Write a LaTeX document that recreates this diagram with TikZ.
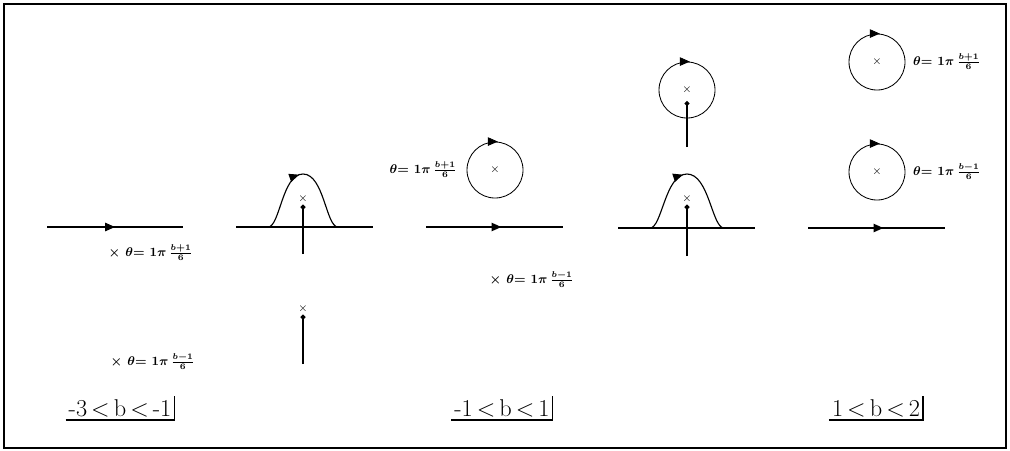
\documentclass[tikz,border=0pt]{standalone}
\usepackage{amsmath}
\usetikzlibrary{arrows.meta, decorations.markings, positioning}

\begin{document}
\begin{tikzpicture}[
  x=0.025cm, y=-0.025cm,
  contour/.style={line width=0.8pt},
  midarrow/.style={contour, postaction={decorate},
    decoration={markings, mark=at position #1 with {\arrow{Triangle[length=7pt,width=6pt]}}}},
  midarrow/.default=0.5,
  loopc/.style={circle, draw, line width=0.6pt, minimum size=1.4cm,
    inner sep=0pt, font=\footnotesize},
  loophead/.style={-{Triangle[length=7pt,width=6pt]}, line width=0.6pt},
  pole/.style={font=\footnotesize, inner sep=1pt},
  lbl/.style={font=\small\bfseries\boldmath, inner sep=1pt},
  brange/.style={font=\LARGE, inner sep=2pt},
  bracket/.style={line width=0.9pt},
  push/.style={line width=0.8pt, -{Circle[length=3.5pt]}}
]
\useasboundingbox (0,0) rectangle (1010,450);
\draw[line width=1.2pt] (4,4) rectangle (1006,448);

%% panel 1: -3 < b < -1
\coordinate (pa-l) at (47,227);
\coordinate (pa-r) at (183,227);
\draw[midarrow=0.5] (pa-l) -- (pa-r);
\node[lbl, anchor=west] (pa-up) at (107,253) {$\times\ \theta{=}\ 1\pi\,\frac{b+1}{6}$};
\node[lbl, anchor=west] (pa-dn) at (109,362) {$\times\ \theta{=}\ 1\pi\,\frac{b-1}{6}$};

%% panel 2: poles pushed up through the line
\coordinate (pb-l) at (236,227);
\coordinate (pb-r) at (373,227);
\draw[contour] (pb-l) -- (pb-r);
\coordinate (pb-f1) at (268,227);
\coordinate (pb-top) at (303,174);
\coordinate (pb-f2) at (338,227);
\draw[midarrow=0.47] (pb-f1) .. controls (280,227) and (282,174) .. (pb-top)
  .. controls (324,174) and (326,227) .. (pb-f2);
\node[pole] (pb-x1) at (303,199) {$\times$};
\coordinate (pb-s1) at (303,254);
\draw[push] (pb-s1) -- (pb-x1);
\node[pole] (pb-x2) at (303,309) {$\times$};
\coordinate (pb-s2) at (303,364);
\draw[push] (pb-s2) -- (pb-x2);

%% panel 3: -1 < b < 1
\node[loopc] (pc-loop) at (495,170) {$\times$};
\draw[loophead] ([xshift=-4pt]pc-loop.north) -- ([xshift=2pt]pc-loop.north);
\node[lbl, left=0.2cm of pc-loop] (pc-up) {$\theta{=}\ 1\pi\,\frac{b+1}{6}$};
\coordinate (pc-l) at (426,227);
\coordinate (pc-r) at (563,227);
\draw[midarrow=0.55] (pc-l) -- (pc-r);
\node[lbl, anchor=west] (pc-dn) at (488,280) {$\times\ \theta{=}\ 1\pi\,\frac{b-1}{6}$};

%% panel 4: poles pushed further up
\node[loopc] (pd-loop) at (687,90) {$\times$};
\draw[loophead] ([xshift=-4pt]pd-loop.north) -- ([xshift=2pt]pd-loop.north);
\coordinate (pd-s1) at (687,147);
\coordinate (pd-t1) at (687,101);
\draw[push] (pd-s1) -- (pd-t1);
\coordinate (pd-l) at (618,228);
\coordinate (pd-r) at (755,228);
\draw[contour] (pd-l) -- (pd-r);
\coordinate (pd-f1) at (650,228);
\coordinate (pd-top) at (687,174);
\coordinate (pd-f2) at (724,228);
\draw[midarrow=0.47] (pd-f1) .. controls (662,228) and (665,174) .. (pd-top)
  .. controls (709,174) and (712,228) .. (pd-f2);
\node[pole] (pd-x) at (687,199) {$\times$};
\coordinate (pd-s2) at (687,256);
\draw[push] (pd-s2) -- (pd-x);

%% panel 5: 1 < b < 2
\node[loopc] (pe-up) at (877,62) {$\times$};
\draw[loophead] ([xshift=-4pt]pe-up.north) -- ([xshift=2pt]pe-up.north);
\node[lbl, right=0.15cm of pe-up] (pe-uplbl) {$\theta{=}\ 1\pi\,\frac{b+1}{6}$};
\node[loopc] (pe-dn) at (877,172) {$\times$};
\draw[loophead] ([xshift=-4pt]pe-dn.north) -- ([xshift=2pt]pe-dn.north);
\node[lbl, right=0.15cm of pe-dn] (pe-dnlbl) {$\theta{=}\ 1\pi\,\frac{b-1}{6}$};
\coordinate (pe-l) at (808,228);
\coordinate (pe-r) at (945,228);
\draw[midarrow=0.55] (pe-l) -- (pe-r);

%% ranges of b
\node[brange] (ra) at (120,408) {-3\,<\,b\,<\,-1};
\node[brange] (rb) at (502,408) {-1\,<\,b\,<\,1};
\node[brange] (rc) at (876,408) {1\,<\,b\,<\,2};
\draw[bracket] (ra.south west) -- (ra.south east) -- (ra.north east);
\draw[bracket] (rb.south west) -- (rb.south east) -- (rb.north east);
\draw[bracket] (rc.south west) -- (rc.south east) -- (rc.north east);

\end{tikzpicture}
\end{document}
